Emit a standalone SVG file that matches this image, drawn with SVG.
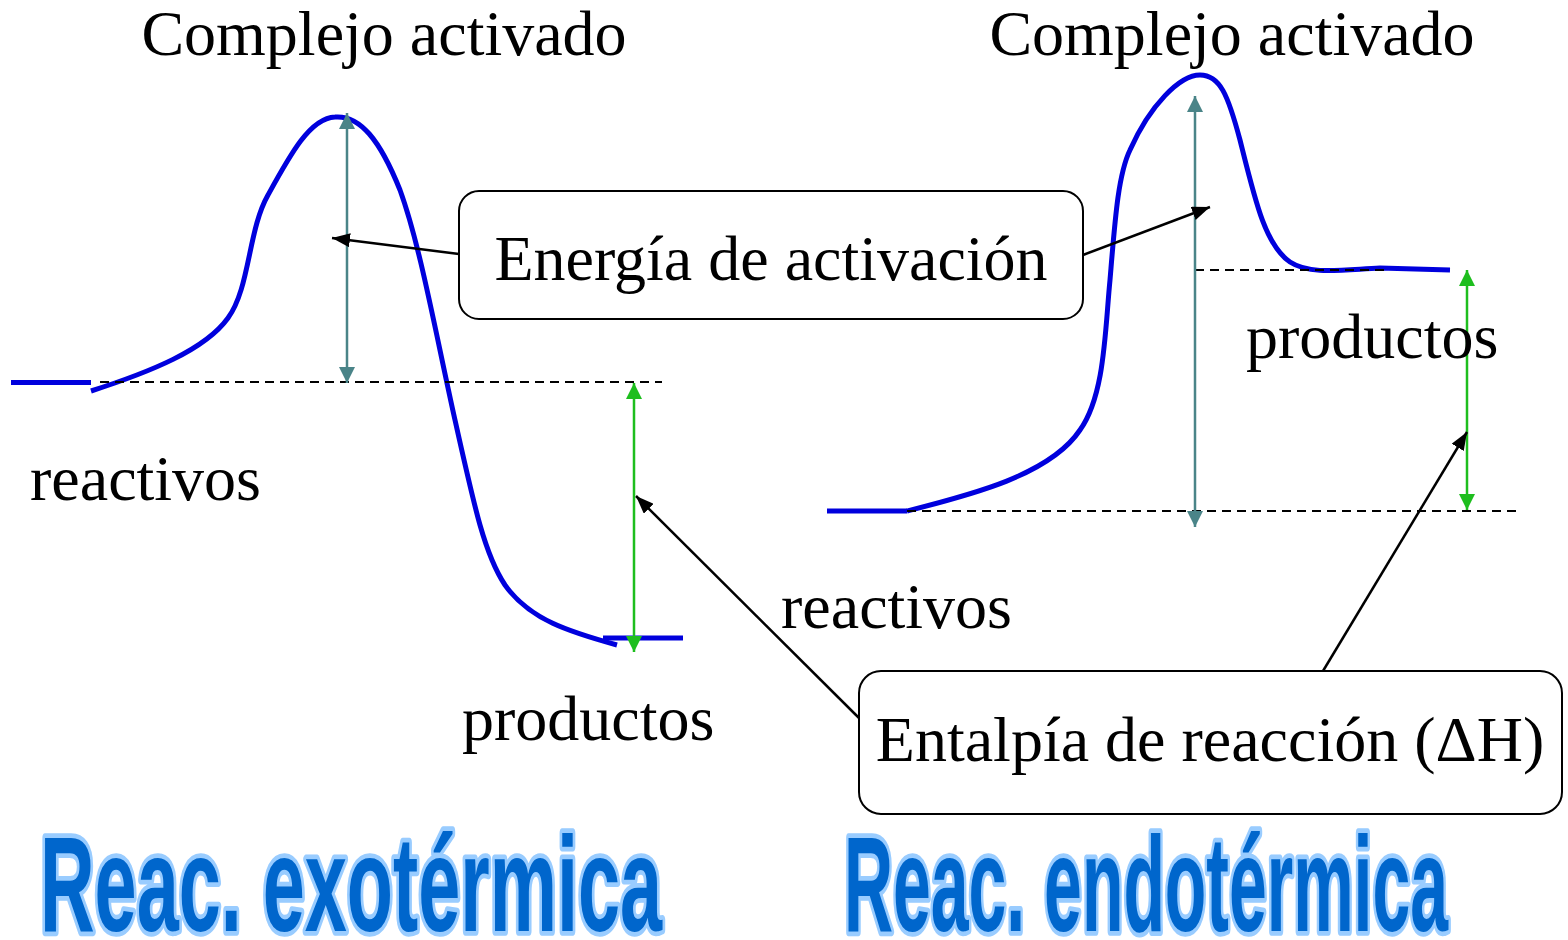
<svg xmlns="http://www.w3.org/2000/svg" width="1568" height="940" viewBox="0 0 1568 940">
<style>
.lbl{font-family:"Liberation Serif","Times New Roman",serif;font-size:64px;fill:#000}
.curve{fill:none;stroke:#0000DD;stroke-width:5;stroke-linecap:butt}
.dash{fill:none;stroke:#000;stroke-width:2;stroke-dasharray:9,6}
.teal{stroke:#4A8488;stroke-width:2.5;fill:none}
.green{stroke:#1EBE1E;stroke-width:2.5;fill:none}
.blk{stroke:#000;stroke-width:2.5;fill:none}
.box{fill:#fff;stroke:#000;stroke-width:2}
.big{font-family:"Liberation Sans",Arial,sans-serif;font-weight:bold;font-size:100px;fill:#0066CC;stroke:#99CCFF;stroke-width:7;paint-order:stroke;stroke-linejoin:round}
</style>
<defs>
<marker id="mt" viewBox="0 0 16 16" refX="16" refY="8" markerWidth="16" markerHeight="16" markerUnits="userSpaceOnUse" orient="auto-start-reverse"><path d="M0,0 L16,8 L0,16 z" fill="#4A8488"/></marker>
<marker id="mg" viewBox="0 0 16 16" refX="16" refY="8" markerWidth="16" markerHeight="16" markerUnits="userSpaceOnUse" orient="auto-start-reverse"><path d="M0,0 L16,8 L0,16 z" fill="#1EBE1E"/></marker>
<marker id="mb" viewBox="0 0 18 14" refX="18" refY="7" markerWidth="18" markerHeight="14" markerUnits="userSpaceOnUse" orient="auto"><path d="M0,0 L18,7 L0,14 z" fill="#000"/></marker>
</defs>

<g id="exo-curve">
<path class="curve" d="M11,382.5 L91,382.5"/>
<path class="curve" d="M91,391 C150,372 205,350 228,318 C250,288 248,230 268,195 C290,155 310,118 335,117 C360,115 380,140 400,190 C420,245 435,330 455,420 C475,510 485,555 505,585 C530,620 570,632 617,645"/>
<path class="curve" d="M603,638 L683,638"/>
</g>

<g id="endo-curve">
<path class="curve" d="M827,511 L907,511"/>
<path class="curve" d="M907,511 C970,495 1050,475 1080,430 C1105,395 1105,330 1110,280 C1115,220 1118,175 1130,150 C1150,105 1180,75 1200,75 C1220,75 1228,95 1240,140 C1255,200 1265,245 1290,262 C1310,275 1340,270 1380,268 L1450,270"/>
</g>

<g id="connectors">
<path class="dash" d="M100,382 L662,382"/>
<path class="dash" d="M1195,270 L1385,270"/>
<path class="dash" d="M907,511 L1516,511"/>
<path class="teal" d="M347,113 L347,383" marker-start="url(#mt)" marker-end="url(#mt)"/>
<path class="green" d="M634,383 L634,652" marker-start="url(#mg)" marker-end="url(#mg)"/>
<path class="teal" d="M1195,96 L1195,527" marker-start="url(#mt)" marker-end="url(#mt)"/>
<path class="green" d="M1467,270 L1467,510" marker-start="url(#mg)" marker-end="url(#mg)"/>
<path class="blk" d="M459,254 L332,238" marker-end="url(#mb)"/>
<path class="blk" d="M1083,255 L1210,207" marker-end="url(#mb)"/>
<path class="blk" d="M859,718 L636,496" marker-end="url(#mb)"/>
<path class="blk" d="M1323,671 L1467,432" marker-end="url(#mb)"/>
</g>

<g id="box-activacion">
<rect class="box" x="459" y="191" width="624" height="128" rx="20"/>
<text class="lbl" x="771" y="280" text-anchor="middle">Energía de activación</text>
</g>

<g id="box-entalpia">
<rect class="box" x="859" y="671" width="703" height="143" rx="22"/>
<text class="lbl" x="1210" y="761" text-anchor="middle">Entalpía de reacción (ΔH)</text>
</g>

<g id="labels">
<text class="lbl" x="384" y="55" text-anchor="middle">Complejo activado</text>
<text class="lbl" x="1232" y="55" text-anchor="middle">Complejo activado</text>
<text class="lbl" x="30" y="500">reactivos</text>
<text class="lbl" x="462" y="740">productos</text>
<text class="lbl" x="781" y="628">reactivos</text>
<text class="lbl" x="1246" y="358">productos</text>
</g>

<g id="titles">
<text class="big" transform="translate(40,931) scale(1,1.35)" x="0" y="0" textLength="622" lengthAdjust="spacingAndGlyphs">Reac. exotérmica</text>
<text class="big" transform="translate(844,931) scale(1,1.35)" x="0" y="0" textLength="604" lengthAdjust="spacingAndGlyphs">Reac. endotérmica</text>
</g>
</svg>
